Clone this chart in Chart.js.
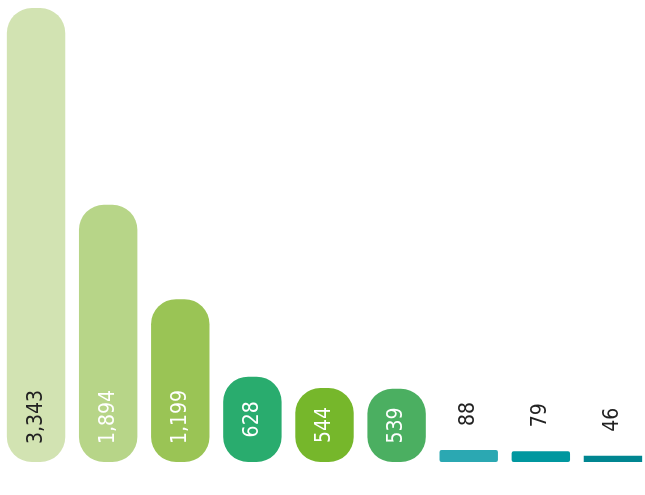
<!DOCTYPE html>
<html>
<head>
<meta charset="utf-8">
<script src="https://cdn.jsdelivr.net/npm/chart.js@4/dist/chart.umd.min.js"></script>
<style>
    html, body { margin: 0; padding: 0; background: #fff; overflow: hidden; }
    #wrap { width: 652px; height: 495px; }
</style>
</head>
<body>
<div id="wrap"><canvas id="barChart" width="652" height="495"></canvas></div>
<script>
// data
const categories = ["A", "B", "C", "D", "E", "F", "G", "H", "I"];
const values = [3343, 1894, 1199, 628, 544, 539, 88, 79, 46];

// styling
const barColors = [
    "#D2E3B2",
    "#B7D588",
    "#9AC455",
    "#29AC6E",
    "#76B72B",
    "#4BAF61",
    "#2BA8B2",
    "#00979F",
    "#008691",
];
const insideLabelColors = ["#222222", "#ffffff", "#ffffff", "#ffffff", "#ffffff", "#ffffff"];

// draws the rotated value labels, inside tall bars or above short ones
const valueLabels = {
    id: "valueLabels",
    afterDatasetsDraw(chart) {
        const ctx = chart.ctx;
        const meta = chart.getDatasetMeta(0);
        ctx.save();
        ctx.font = "21px 'DejaVu Sans Condensed', 'DejaVu Sans', sans-serif";
        ctx.textBaseline = "middle";
        meta.data.forEach((bar, i) => {
            const text = values[i].toLocaleString("en-US");
            const height = bar.base - bar.y;
            ctx.save();
            if (height > 40) {
                const cy = Math.max((bar.y + bar.base) / 2, bar.base - 45);
                ctx.translate(bar.x, cy);
                ctx.rotate(-Math.PI / 2);
                ctx.textAlign = "center";
                ctx.fillStyle = insideLabelColors[i] || "#ffffff";
            } else {
                ctx.translate(bar.x, bar.y - 24);
                ctx.rotate(-Math.PI / 2);
                ctx.textAlign = "left";
                ctx.fillStyle = "#222222";
            }
            ctx.fillText(text, 0, 0);
            ctx.restore();
        });
        ctx.restore();
    },
};

const ctx = document.getElementById("barChart").getContext("2d");

new Chart(ctx, {
    type: "bar",
    data: {
        labels: categories,
        datasets: [
            {
                data: values,
                backgroundColor: barColors,
                borderSkipped: false,
                borderRadius: (c) => {
                    const v = c.raw;
                    if (v > 300) return 25;
                    if (v > 60) return 2;
                    return 0;
                },
                barPercentage: 0.81,
                categoryPercentage: 1,
            },
        ],
    },
    options: {
        responsive: false,
        animation: false,
        layout: { padding: { top: 8, bottom: 33, left: 0, right: 3 } },
        scales: {
            x: { display: false },
            y: { display: false, min: 0, max: Math.max(...values) },
        },
        plugins: {
            legend: { display: false },
            tooltip: { enabled: false },
        },
    },
    plugins: [valueLabels],
});
</script>
</body>
</html>
